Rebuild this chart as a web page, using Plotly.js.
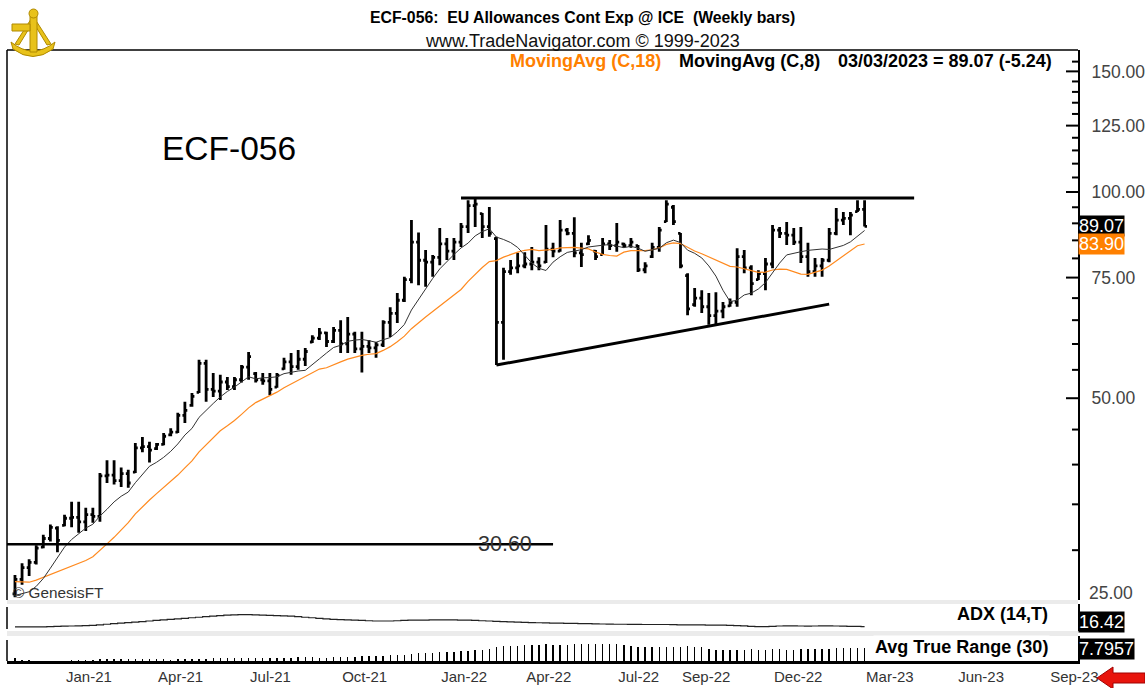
<!DOCTYPE html>
<html><head><meta charset="utf-8">
<script src="https://cdn.plot.ly/plotly-3.0.1.min.js"></script>
<style>html,body{margin:0;padding:0;background:#fff;}#chart{width:1145px;height:688px;}</style>
</head><body><div id="chart"></div>
<script>
// ---------- DATA ----------
const firstBarDate = '2020-11-13';   // weekly bars, Fridays
const opens = [25.9,27.2,28.3,28.8,30.3,31.2,32.3,32.6,33.4,33.5, 33.0,33.8,33.6,38.5,38.6,37.9,38.8,39.0,42.3,42.5,
 42.2,42.8,44.2,44.6,47.2,48.8,51.0,56.2,51.5,51.2, 52.8,52.0,53.2,55.5,54.3,53.2,53.0,51.9,55.2,56.5,
 55.6,57.0,60.4,61.2,62.3,60.5,62.8,60.0,62.0,59.0, 59.5,59.2,59.8,64.5,66.5,69.5,74.5,84.5,79.5,79.0,
 80.3,84.0,82.0,84.5,89.0,95.5,93.0,89.0,85.5,64.5, 76.5,77.5,78.0,78.5,79.0,79.0,82.5,82.0,88.0,87.0,
 81.5,84.0,82.0,81.0,84.0,83.5,84.0,83.5,83.5,77.0, 80.5,83.0,90.5,95.0,87.0,75.5,68.5,70.0,68.0,66.0,
 67.0,68.2,69.0,80.5,77.5,74.5,76.0,78.5,88.0,87.0, 86.5,84.5,80.5,76.5,78.0,79.5,87.0,91.0,91.5,93.6, 94.31];
const highs = [27.6,28.7,29.1,30.5,31.6,32.7,32.5,33.8,35.3,35.3, 34.6,34.6,38.9,40.6,40.6,39.6,39.3,43.0,43.9,43.2,
 43.0,44.5,45.2,47.6,49.4,50.9,56.9,56.9,54.4,54.1, 53.7,53.7,55.9,58.4,54.6,54.4,54.4,54.4,57.3,58.2,
 58.8,59.2,61.8,63.3,62.5,63.5,65.0,65.7,62.5,62.5, 60.8,60.4,65.0,67.9,71.2,75.2,91.0,87.3,82.3,80.9,
 88.6,85.7,85.7,90.1,97.3,98.0,93.2,95.1,86.0,77.5, 79.6,81.5,81.7,83.1,80.3,89.5,84.3,91.0,88.6,91.9,
 84.3,86.5,82.3,85.7,85.1,90.1,84.3,85.7,83.7,79.0, 84.3,88.9,97.3,95.7,87.1,76.1,72.4,71.9,71.2,71.4,
 69.1,69.9,82.8,82.3,78.2,76.9,80.1,89.5,88.9,90.4, 88.6,88.9,84.3,80.1,80.1,88.6,94.8,93.5,93.5,97.3, 97.3];
const lows = [25.6,26.7,27.5,28.6,30.2,30.9,29.8,32.5,32.4,31.8, 32.0,32.9,33.0,37.6,37.4,37.1,37.0,38.9,41.7,40.3,
 42.0,42.7,44.0,44.5,46.0,48.6,50.9,49.4,50.2,49.7, 51.4,51.4,52.7,53.2,52.7,52.3,50.5,51.8,55.0,54.1,
 55.0,55.7,60.2,60.8,59.4,60.2,58.2,58.2,58.2,54.5, 58.2,57.3,59.4,61.4,64.4,69.1,73.6,73.1,72.7,75.2,
 78.2,79.6,79.6,83.1,87.1,88.9,85.7,86.0,55.9,56.9, 75.7,76.1,77.4,76.9,76.9,78.8,80.3,81.8,86.5,80.3,
 77.7,83.7,79.6,80.9,82.3,81.8,82.9,82.9,76.4,76.1, 80.1,81.8,90.4,89.5,77.4,66.1,68.0,66.6,64.0,64.0,
 65.4,68.0,68.0,76.1,70.7,74.4,71.9,77.4,85.7,83.7, 83.7,78.8,75.2,75.2,75.2,79.0,86.5,89.5,86.5,93.5, 89.07];
const closes = [27.2,28.3,28.8,30.2,31.2,32.4,31.0,33.4,33.5,33.0, 33.8,33.6,38.5,38.6,37.9,38.8,37.6,42.3,42.5,42.0,
 42.8,44.0,44.6,47.2,48.0,50.3,56.2,51.5,51.2,52.8, 52.0,53.2,55.5,57.5,53.2,53.0,51.5,54.0,56.5,55.6,
 57.0,58.5,61.2,62.3,60.5,62.8,60.0,62.0,59.0,59.5, 59.2,59.8,64.5,66.5,69.5,74.5,84.5,79.5,79.0,80.3,
 84.0,82.0,84.5,89.0,95.5,96.0,89.0,87.0,64.5,76.5, 77.5,78.0,78.5,79.0,78.0,82.5,82.0,88.0,87.0,81.5,
 81.0,85.0,80.5,84.0,83.5,84.5,83.5,84.5,77.0,78.0, 83.0,88.0,96.0,90.5,78.0,67.5,70.0,68.0,66.0,67.0,
 68.0,69.0,80.5,77.5,73.5,76.0,78.5,88.0,87.0,86.5, 84.5,80.5,76.5,78.0,79.5,87.0,91.0,91.5,92.5,94.31, 89.07];
// closes of the 17 weeks before the first visible bar (moving-average warm-up)
const priorCloses = [28.5,29.5,26.7,26.5,27.3,26.5,28.5,28.2,29.0,29.0,27.0,27.5,26.4,25.5,24.7,23.3,24.5];
// ADX(14)
const adxValues = [15,15,15,15,15.5,16, 17,18,18.5,19,20,21, 23,25,27,29,31,33, 35,37,39,41,43,45,
 47,49,51,53,55,57, 59,60,61,61,60,59, 58,57,56,55,53,51, 49,47,45,43,42,41, 40,39,38,37,37,37,
 38,39,40,40,40.5,41, 41,41,41,40.5,40,39, 38,37,36,35,34,33, 32,31,30.5,30,29.5,29,
 28.5,28,27.5,27,26.5,26, 25.5,25,25,24.5,24.5,24, 24,24,24,23.5,23,23, 22.5,22.5,22,22,21.5,21,
 20,19,17,16,16,17, 18.5,19,19,18.5,18,18.5, 19,19,18.5,18,17.5,17, 16.42];

// drawn lines (dates, prices)
const resistanceDates = ['2022-01-28','2023-04-21'];
const resistancePrices = [98.0, 98.0];
const supportDates = ['2022-03-04','2023-01-27'];
const supportPrices = [55.9, 68.6];
const levelDates = ['2020-11-05','2022-04-29'];
const levelPrices = [30.6, 30.6];
const levelLabel = '30.60';

// axis labels
const xTickDates = ['2021-01-01','2021-04-02','2021-07-02','2021-10-01','2022-01-07','2022-04-01','2022-07-01','2022-09-02','2022-12-02','2023-03-03','2023-06-02','2023-09-01'];
const xTickLabels = ['Jan-21','Apr-21','Jul-21','Oct-21','Jan-22','Apr-22','Jul-22','Sep-22','Dec-22','Mar-23','Jun-23','Sep-23'];
const yTickVals = [25,50,75,100,125,150];
const yTickText = ['25.00','50.00','75.00','100.00','125.00','150.00'];
const yMinorVals = [30,35,40,45,55,60,65,70,80,85,90,95,105,110,115,120,130,135,140,145,155];

const lastClose = 89.07, lastChange = -5.24, lastDateText = '03/03/2023';
const ma18Last = 83.90, adxLast = '16.42', atrLast = '7.7957';

// ---------- DERIVED ----------
const start = Date.parse(firstBarDate+'T00:00:00Z');
const dates = closes.map((_,i)=> new Date(start + i*7*86400000).toISOString().slice(0,10));
function sma(n){
  const all = priorCloses.concat(closes), off = priorCloses.length;
  return closes.map((_,i)=>{ const e = off+i; const s = Math.max(0,e-n+1);
    let sum=0; for(let k=s;k<=e;k++) sum+=all[k]; return sum/(e-s+1); });
}
const ma8 = sma(8), ma18 = sma(18);
const tr = closes.map((_,i)=>{ const pc = i>0?closes[i-1]:priorCloses[priorCloses.length-1];
  return Math.max(highs[i]-lows[i], Math.abs(highs[i]-pc), Math.abs(lows[i]-pc)); });
const atr = tr.map((_,i)=>{ const s=Math.max(0,i-29); let sum=0; for(let k=s;k<=i;k++) sum+=tr[k]; return sum/(i-s+1); });

// ---------- GEOMETRY HELPERS (pixel -> paper) ----------
const PL=7, PR=1078, PT=50, PB=661;
const px = v => (v-PL)/(PR-PL);
const py = v => (PB-v)/(PB-PT);
const FONT = 'Arial, "Liberation Sans", sans-serif';
const yRange = [1.4044, 2.2073], yDomain = [py(600), 1];
// price -> paper position on the price axis (same log scale as yaxis)
const yScale = v => yDomain[0] + (Math.log10(v)-yRange[0])/(yRange[1]-yRange[0])*(yDomain[1]-yDomain[0]);

const traces = [
  {type:'ohlc', x:dates, open:opens, high:highs, low:lows, close:closes, xaxis:'x', yaxis:'y',
   increasing:{line:{color:'#000',width:2.8}}, decreasing:{line:{color:'#000',width:2.8}}, tickwidth:0.34, hoverinfo:'skip'},
  {type:'scatter', mode:'lines', x:dates, y:ma18, line:{color:'#ff8a1f', width:1.2}, xaxis:'x', yaxis:'y', hoverinfo:'skip'},
  {type:'scatter', mode:'lines', x:dates, y:ma8, line:{color:'#333', width:1}, xaxis:'x', yaxis:'y', hoverinfo:'skip'},
  {type:'scatter', mode:'lines', x:resistanceDates, y:resistancePrices, line:{color:'#000', width:3}, xaxis:'x', yaxis:'y', hoverinfo:'skip'},
  {type:'scatter', mode:'lines', x:supportDates, y:supportPrices, line:{color:'#000', width:3}, xaxis:'x', yaxis:'y', hoverinfo:'skip'},
  {type:'scatter', mode:'lines', x:levelDates, y:levelPrices, line:{color:'#000', width:2.5}, xaxis:'x', yaxis:'y', hoverinfo:'skip'},
  {type:'scatter', mode:'lines', x:dates, y:adxValues, line:{color:'#222', width:1.2, shape:'hvh'}, xaxis:'x', yaxis:'y2', hoverinfo:'skip'},
  {type:'bar', x:dates, y:atr, marker:{color:'#000', line:{width:0}}, width:1.4*86400000, xaxis:'x', yaxis:'y3', hoverinfo:'skip'}
];

const annotations = [
  {text:'<b>ECF-056:  EU Allowances Cont Exp @ ICE  (Weekly bars)</b>', xref:'paper', yref:'paper', x:px(582), y:py(18), showarrow:false, font:{family:FONT,size:15.8,color:'#000'}, xanchor:'center', yanchor:'middle'},
  {text:'www.TradeNavigator.com © 1999-2023', xref:'paper', yref:'paper', x:px(582), y:py(41), showarrow:false, font:{family:FONT,size:18,color:'#111'}, xanchor:'center', yanchor:'middle'},
  {text:'<b>MovingAvg (C,18)</b>', xref:'paper', yref:'paper', x:px(508), y:py(61), showarrow:false, font:{family:FONT,size:18,color:'#ff8000'}, xanchor:'left', yanchor:'middle'},
  {text:'<b>MovingAvg (C,8)</b>', xref:'paper', yref:'paper', x:px(677), y:py(61), showarrow:false, font:{family:FONT,size:18,color:'#000'}, xanchor:'left', yanchor:'middle'},
  {text:'<b>'+lastDateText+' = '+lastClose.toFixed(2)+' ('+lastChange.toFixed(2)+')</b>', xref:'paper', yref:'paper', x:px(836), y:py(61), showarrow:false, font:{family:FONT,size:18,color:'#000'}, xanchor:'left', yanchor:'middle'},
  {text:'ECF-056', xref:'paper', yref:'paper', x:px(160), y:py(149), showarrow:false, font:{family:FONT,size:33.5,color:'#000'}, xanchor:'left', yanchor:'middle'},
  {text:levelLabel, xref:'paper', yref:'y', x:px(505), y:Math.log10(30.6), showarrow:false, font:{family:FONT,size:21.5,color:'#333'}, xanchor:'center', yanchor:'middle'},
  {text:'© GenesisFT', xref:'paper', yref:'paper', x:px(11), y:py(592), showarrow:false, font:{family:FONT,size:15.3,color:'#333'}, xanchor:'left', yanchor:'middle'},
  {text:'25.00', xref:'paper', yref:'paper', x:1, xshift:9, y:py(593), showarrow:false, font:{family:FONT,size:17.5,color:'#444'}, xanchor:'left', yanchor:'middle'},
  {text:lastClose.toFixed(2), xref:'paper', yref:'y', x:1, y:Math.log10(lastClose), showarrow:false, font:{family:FONT,size:18,color:'#fff'}, bgcolor:'#000', borderpad:0, xanchor:'left', yanchor:'middle'},
  {text:ma18Last.toFixed(2), xref:'paper', yref:'y', x:1, y:Math.log10(ma18Last), showarrow:false, font:{family:FONT,size:18,color:'#fff'}, bgcolor:'#ff8000', borderpad:0, xanchor:'left', yanchor:'middle'},
  {text:'<b>ADX (14,T)</b>', xref:'paper', yref:'paper', x:px(1050), y:py(614), showarrow:false, font:{family:FONT,size:18,color:'#000'}, xanchor:'right', yanchor:'middle'},
  {text:'<b>Avg True Range (30)</b>', xref:'paper', yref:'paper', x:px(1050), y:py(647), showarrow:false, font:{family:FONT,size:18,color:'#000'}, xanchor:'right', yanchor:'middle', bgcolor:'#fff'},
  {text:adxLast, xref:'paper', yref:'paper', x:1, y:py(622), showarrow:false, font:{family:FONT,size:18,color:'#fff'}, bgcolor:'#000', borderpad:0, xanchor:'left', yanchor:'middle'},
  {text:atrLast, xref:'paper', yref:'paper', x:1, y:py(649), showarrow:false, font:{family:FONT,size:18,color:'#fff'}, bgcolor:'#000', borderpad:0, xanchor:'left', yanchor:'middle'}
];

const G='#e8c21a', GD='#b08a00';
const P = (x,y)=> px(x)+' '+py(y);
const shapes = [
  // separators
  {type:'rect', xref:'paper', yref:'paper', x0:0, x1:1, y0:py(604), y1:py(600), fillcolor:'#ebebeb', line:{width:0}, layer:'below'},
  {type:'rect', xref:'paper', yref:'paper', x0:0, x1:1, y0:py(636), y1:py(631), fillcolor:'#ebebeb', line:{width:0}, layer:'below'},
  // borders
  {type:'line', xref:'paper', yref:'paper', x0:0, x1:1, y0:1, y1:1, line:{color:'#000', width:1.5}},
  {type:'line', xref:'paper', yref:'paper', x0:0, x1:0, y0:py(50), y1:py(600), line:{color:'#000', width:1.5}},
  {type:'line', xref:'paper', yref:'paper', x0:0, x1:0, y0:py(607), y1:py(629), line:{color:'#000', width:1.5}},
  {type:'line', xref:'paper', yref:'paper', x0:0, x1:0, y0:py(640), y1:py(661), line:{color:'#000', width:1.5}},
  // logo (sextant emblem)
  {type:'path', xref:'paper', yref:'paper', path:'M '+P(11,42)+' Q '+P(33,60)+' '+P(55,42)+' L '+P(53,49)+' Q '+P(33,64)+' '+P(13,49)+' Z', fillcolor:G, line:{color:GD,width:1}},
  {type:'path', xref:'paper', yref:'paper', path:'M '+P(33,16)+' L '+P(15,44)+' L '+P(19,45)+' L '+P(33,22)+' L '+P(47,45)+' L '+P(51,44)+' Z', fillcolor:G, line:{color:GD,width:1}},
  {type:'rect', xref:'paper', yref:'paper', x0:px(30), x1:px(37), y0:py(52), y1:py(16), fillcolor:G, line:{color:GD,width:1}},
  {type:'rect', xref:'paper', yref:'paper', x0:px(12), x1:px(30), y0:py(31), y1:py(24), fillcolor:G, line:{color:GD,width:1}},
  {type:'circle', xref:'paper', yref:'paper', x0:px(29), x1:px(38), y0:py(18), y1:py(9), fillcolor:G, line:{color:GD,width:1}},
  // red arrow
  {type:'path', xref:'paper', yref:'paper',
   path:'M '+P(1097,678)+' L '+P(1113,667)+' L '+P(1113,673)+' L '+P(1145,673)+' L '+P(1145,683)+' L '+P(1113,683)+' L '+P(1113,689)+' Z',
   fillcolor:'#e8140c', line:{color:'#a00000', width:1}}
];
// price-axis tick marks (inside the right axis), placed through the price scale
yTickVals.filter(v=>Math.log10(v)>yRange[0]).forEach(v=>shapes.push({type:'rect', xref:'paper', yref:'paper', x0:px(PR-12), x1:1, y0:yScale(v)-1/(PB-PT), y1:yScale(v)+1/(PB-PT), fillcolor:'#000', line:{width:0}, layer:'above'}));
yMinorVals.filter(v=>Math.log10(v)<yRange[1]).forEach(v=>shapes.push({type:'rect', xref:'paper', yref:'paper', x0:px(PR-6), x1:1, y0:yScale(v)-1/(PB-PT), y1:yScale(v)+1/(PB-PT), fillcolor:'#000', line:{width:0}, layer:'above'}));

const layout = {
  width:1145, height:688, margin:{l:PL, r:1145-PR, t:PT, b:688-PB},
  paper_bgcolor:'#fff', plot_bgcolor:'#fff', showlegend:false,
  font:{family:FONT, color:'#222'},
  xaxis:{type:'date', range:['2020-11-05 03:00','2023-09-30'], anchor:'y3', showgrid:false, zeroline:false,
    showline:true, linecolor:'#000', linewidth:3, ticks:'', tickvals:xTickDates, ticktext:xTickLabels,
    ticklabelposition:'outside right', tickfont:{family:FONT, size:15, color:'#333'}, rangeslider:{visible:false}, fixedrange:true},
  yaxis:{type:'log', domain:yDomain, range:yRange, side:'right', anchor:'x', showline:true, linecolor:'#000', linewidth:2,
    ticks:'', tickvals:yTickVals, ticktext:yTickText,
    tickfont:{family:FONT, size:17.5, color:'#444'}, ticklabelstandoff:8,
    showgrid:false, zeroline:false, fixedrange:true},
  yaxis2:{domain:[py(631),py(604)], range:[0,100], anchor:'x', side:'right', showline:true, linecolor:'#000', linewidth:2,
    showticklabels:false, ticks:'', showgrid:false, zeroline:false, fixedrange:true},
  yaxis3:{domain:[0,py(636)], range:[2,12], anchor:'x', side:'right', showline:true, linecolor:'#000', linewidth:2,
    showticklabels:false, ticks:'', showgrid:false, zeroline:false, fixedrange:true},
  bargap:0, annotations:annotations, shapes:shapes
};

Plotly.newPlot('chart', traces, layout, {staticPlot:true, displayModeBar:false});
</script></body></html>
